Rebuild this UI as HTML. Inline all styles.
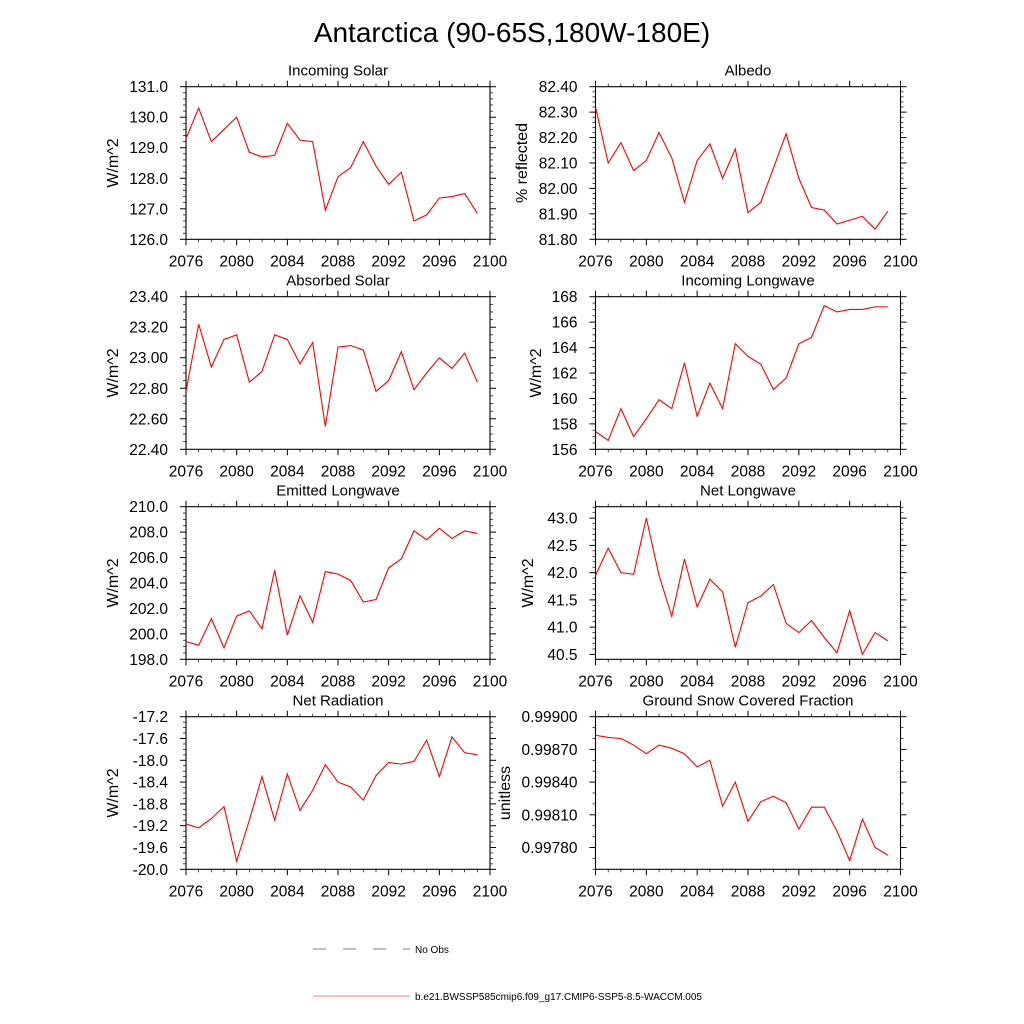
<!DOCTYPE html>
<html><head><meta charset="utf-8"><style>
html,body{margin:0;padding:0;background:#fff;}
svg{display:block;font-family:"Liberation Sans",Arial,sans-serif;}
</style></head><body>
<svg id="fig" width="1024" height="1024" viewBox="0 0 1024 1024">
<text x="512" y="42" font-size="28" text-anchor="middle">Antarctica (90-65S,180W-180E)</text>
<g>
<line x1="313" y1="949" x2="410" y2="949" stroke="#000" stroke-width="0.6" stroke-dasharray="13,17"/>
<text x="415" y="953" font-size="10">No Obs</text>
<line x1="313" y1="996" x2="410" y2="996" stroke="#f00" stroke-width="0.6"/>
<text x="415" y="1000" font-size="10">b.e21.BWSSP585cmip6.f09_g17.CMIP6-SSP5-8.5-WACCM.005</text>
</g>
</svg>
<script>
const years = [2076,2077,2078,2079,2080,2081,2082,2083,2084,2085,2086,2087,2088,2089,2090,2091,2092,2093,2094,2095,2096,2097,2098,2099];
const xTicks = [2076,2080,2084,2088,2092,2096,2100];
const incomingSolar = [129.3,130.3,129.2,129.6,130.0,128.85,128.7,128.75,129.8,129.25,129.2,126.95,128.05,128.35,129.2,128.4,127.8,128.2,126.6,126.8,127.35,127.4,127.5,126.85];
const albedo = [82.32,82.10,82.18,82.07,82.11,82.22,82.12,81.945,82.11,82.175,82.04,82.155,81.905,81.945,82.08,82.215,82.04,81.925,81.915,81.86,81.875,81.89,81.84,81.91];
const absorbedSolar = [22.78,23.22,22.94,23.12,23.15,22.84,22.91,23.15,23.12,22.96,23.10,22.55,23.07,23.08,23.05,22.78,22.85,23.04,22.79,22.90,23.00,22.93,23.03,22.84];
const incomingLW = [157.4,156.7,159.2,157.0,158.4,159.9,159.2,162.8,158.6,161.2,159.2,164.3,163.3,162.7,160.7,161.6,164.3,164.8,167.3,166.8,167.0,167.0,167.2,167.2];
const emittedLW = [199.4,199.1,201.2,198.9,201.4,201.8,200.4,205.0,199.9,203.0,200.9,204.9,204.7,204.2,202.5,202.7,205.2,205.9,208.1,207.4,208.3,207.5,208.1,207.9];
const netLW = [41.95,42.45,42.0,41.97,43.0,41.95,41.2,42.25,41.37,41.88,41.65,40.63,41.45,41.57,41.78,41.07,40.9,41.12,40.81,40.53,41.3,40.5,40.9,40.75];
const netRad = [-19.17,-19.24,-19.07,-18.85,-19.85,-19.1,-18.3,-19.1,-18.25,-18.92,-18.55,-18.08,-18.4,-18.49,-18.73,-18.28,-18.04,-18.07,-18.02,-17.63,-18.3,-17.57,-17.86,-17.9];
const snowFrac = [0.99883,0.99881,0.99880,0.99874,0.99866,0.99874,0.99871,0.99866,0.99854,0.99860,0.99818,0.99840,0.99804,0.99822,0.99827,0.99821,0.99797,0.99817,0.99817,0.99795,0.99768,0.99806,0.99780,0.99773];
const ticksIS = [126,127,128,129,130,131];
const ticksAlb = [81.8,81.9,82.0,82.1,82.2,82.3,82.4];
const ticksAS = [22.4,22.6,22.8,23.0,23.2,23.4];
const ticksILW = [156,158,160,162,164,166,168];
const ticksELW = [198,200,202,204,206,208,210];
const ticksNLW = [40.5,41.0,41.5,42.0,42.5,43.0];
const ticksNR = [-20.0,-19.6,-19.2,-18.8,-18.4,-18.0,-17.6,-17.2];
const ticksSnow = [0.9978,0.9981,0.9984,0.9987,0.999];

const NS="http://www.w3.org/2000/svg";
const svg=document.getElementById('fig');
function mk(tag,attrs,parent){const e=document.createElementNS(NS,tag);for(const k in attrs)e.setAttribute(k,attrs[k]);parent.appendChild(e);return e;}

function panel(p){
  const g=mk('g',{},svg);
  
  
  const L=p.x0,R=p.x1,T=p.y0,B=p.y1;
  const xs=v=>L+(v-2076)/(2100-2076)*(R-L);
  const ys=v=>B-(v-p.ymin)/(p.ymax-p.ymin)*(B-T);
  const step=p.ticks[1]-p.ticks[0];
  for(let i=-10;i<(p.ticks.length+10)*p.minor;i++){
    const v=p.ticks[0]+i*step/p.minor;
    const y=ys(v);
    if(y<T-0.5||y>B+0.5)continue;
    if(i%p.minor===0)continue;
    mk('line',{x1:L-3,y1:y,x2:L,y2:y,stroke:'#000','stroke-width':0.7},g);
    mk('line',{x1:R,y1:y,x2:R+3,y2:y,stroke:'#000','stroke-width':0.7},g);
  }
  for(let yr=2076;yr<=2100;yr++){
    if(yr%4===0)continue;
    const x=xs(yr);
    mk('line',{x1:x,y1:B,x2:x,y2:B+3,stroke:'#000','stroke-width':0.7},g);
    mk('line',{x1:x,y1:T-3,x2:x,y2:T,stroke:'#000','stroke-width':0.7},g);
  }
  p.ticks.forEach(v=>{
    const y=ys(v);
    mk('line',{x1:L-6,y1:y,x2:L,y2:y,stroke:'#000','stroke-width':1},g);
    mk('line',{x1:R,y1:y,x2:R+6,y2:y,stroke:'#000','stroke-width':1},g);
    const t=mk('text',{x:L-18,y:y+5.5,'font-size':15.5,'text-anchor':'end'},g);
    t.textContent=v.toFixed(p.dec);
    
    
  });
  xTicks.forEach(v=>{
    const x=xs(v);
    mk('line',{x1:x,y1:B,x2:x,y2:B+6,stroke:'#000','stroke-width':1},g);
    mk('line',{x1:x,y1:T-6,x2:x,y2:T,stroke:'#000','stroke-width':1},g);
    const t=mk('text',{x:x,y:B+27,'font-size':15.5,'text-anchor':'middle'},g);
    t.textContent=String(v);
    
    
  });
  const fr=mk('rect',{x:L,y:T,width:R-L,height:B-T,fill:'none',stroke:'#000','stroke-width':1.1},g);
  
  
  const ttl=mk('text',{x:(L+R)/2,y:T-11,'font-size':15,'text-anchor':'middle'},g);
  ttl.textContent=p.title;
  
  
  const yl=mk('text',{x:0,y:0,'font-size':16,'text-anchor':'middle',transform:`translate(${p.ylx},${(T+B)/2}) rotate(-90)`},g);
  yl.textContent=p.ylabel;
  
  
  const pts=p.data.map((v,i)=>xs(years[i]).toFixed(2)+','+ys(v).toFixed(2)).join(' ');
  const ln=mk('polyline',{points:pts,fill:'none',stroke:'#f00','stroke-width':1.1},g);
  
  
}
const LX=[186,490], RX=[595.5,900.5];
const rows=[[86.7,239.3],[296.7,449.3],[506.7,659.3],[716.7,869.3]];
panel({name:'incoming-solar',title:'Incoming Solar',ylabel:'W/m^2',x0:LX[0],x1:LX[1],y0:rows[0][0],y1:rows[0][1],ymin:126,ymax:131,ticks:ticksIS,minor:5,dec:1,data:incomingSolar,ylx:118});
panel({name:'albedo',title:'Albedo',ylabel:'% reflected',x0:RX[0],x1:RX[1],y0:rows[0][0],y1:rows[0][1],ymin:81.8,ymax:82.4,ticks:ticksAlb,minor:5,dec:2,data:albedo,ylx:527});
panel({name:'absorbed-solar',title:'Absorbed Solar',ylabel:'W/m^2',x0:LX[0],x1:LX[1],y0:rows[1][0],y1:rows[1][1],ymin:22.4,ymax:23.4,ticks:ticksAS,minor:4,dec:2,data:absorbedSolar,ylx:118});
panel({name:'incoming-longwave',title:'Incoming Longwave',ylabel:'W/m^2',x0:RX[0],x1:RX[1],y0:rows[1][0],y1:rows[1][1],ymin:156,ymax:168,ticks:ticksILW,minor:4,dec:0,data:incomingLW,ylx:541});
panel({name:'emitted-longwave',title:'Emitted Longwave',ylabel:'W/m^2',x0:LX[0],x1:LX[1],y0:rows[2][0],y1:rows[2][1],ymin:198,ymax:210,ticks:ticksELW,minor:4,dec:1,data:emittedLW,ylx:118});
panel({name:'net-longwave',title:'Net Longwave',ylabel:'W/m^2',x0:RX[0],x1:RX[1],y0:rows[2][0],y1:rows[2][1],ymin:40.41,ymax:43.21,ticks:ticksNLW,minor:5,dec:1,data:netLW,ylx:533});
panel({name:'net-radiation',title:'Net Radiation',ylabel:'W/m^2',x0:LX[0],x1:LX[1],y0:rows[3][0],y1:rows[3][1],ymin:-20,ymax:-17.2,ticks:ticksNR,minor:4,dec:1,data:netRad,ylx:118});
panel({name:'snow-fraction',title:'Ground Snow Covered Fraction',ylabel:'unitless',x0:RX[0],x1:RX[1],y0:rows[3][0],y1:rows[3][1],ymin:0.9976,ymax:0.999,ticks:ticksSnow,minor:3,dec:5,data:snowFrac,ylx:510});
</script>
</body></html>
